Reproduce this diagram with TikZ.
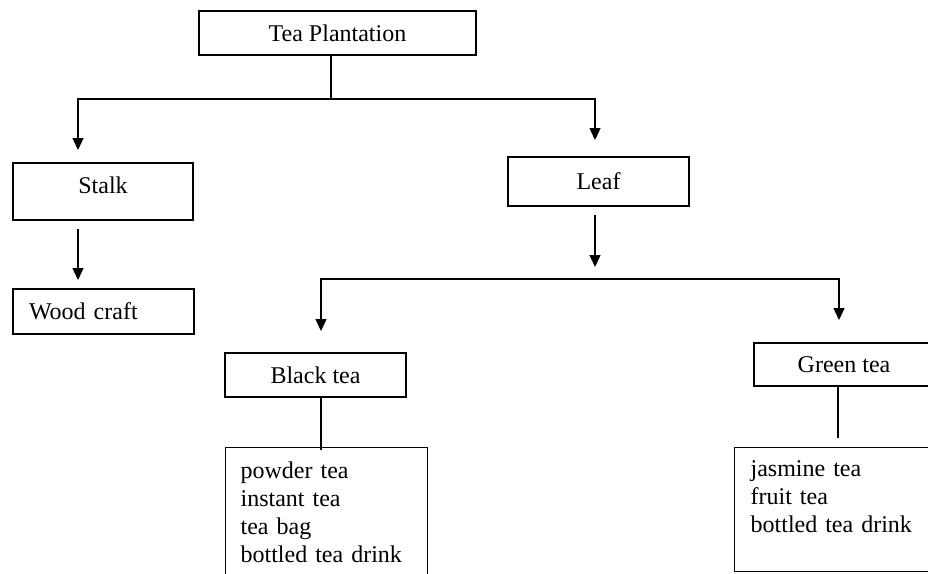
\documentclass[tikz,border=0pt]{standalone}
\usepackage{fontspec}
\setmainfont{Liberation Serif}
\usetikzlibrary{arrows.meta}
\begin{document}
\begin{tikzpicture}[x=1pt,y=-1pt,
  box/.style={draw, line width=1.3pt, inner sep=0pt, font=\fontsize{24}{28}\selectfont},
  listbox/.style={box, anchor=north west, align=left},
  conn/.style={line width=1.3pt},
  arr/.style={conn, -{Triangle[width=11pt,length=12pt]}},
]
\useasboundingbox (0,0) rectangle (928,573);
\clip (0,0) rectangle (928,573);

% boxes
\node[box, minimum width=277pt, minimum height=44pt] (tp) at (337.5,33) {Tea Plantation};
\node[box, minimum width=180pt, minimum height=57pt, text depth=12pt] (stalk) at (103,191.5) {Stalk};
\node[box, minimum width=181pt, minimum height=45pt, text width=149pt, align=left] (wc) at (103.5,311.5) {Wood craft};
\node[box, minimum width=181pt, minimum height=49pt] (leaf) at (598.5,181.5) {Leaf};
\node[box, minimum width=181pt, minimum height=44pt] (black) at (315.5,375) {Black tea};
\node[box, minimum width=180pt, minimum height=43pt] (green) at (844,364.5) {Green tea};
\node[listbox, inner xsep=15pt, text width=172pt, text height=30.5pt, text depth=130pt] (blist) at (225,447)
  {powder tea\\instant tea\\tea bag\\bottled tea drink};
\node[listbox, inner xsep=16pt, text width=170pt, text height=28.5pt, text depth=95.5pt] (glist) at (734,447)
  {jasmine tea\\fruit tea\\bottled tea drink};

% coordinates
\coordinate (j1) at (331,99);
\coordinate (a1) at (78,150);
\coordinate (a2) at (595,140);
\coordinate (s1) at (78,229);
\coordinate (a3) at (78,280);
\coordinate (l1) at (595,215);
\coordinate (a4) at (595,267);
\coordinate (j2) at (595,279);
\coordinate (a5) at (321,331);
\coordinate (a6) at (839,320);

% connectors
\draw[conn] (tp.south -| j1) -- (j1);
\draw[arr] (j1) -| (a1);
\draw[arr] (j1) -| (a2);
\draw[arr] (s1) -- (a3);
\draw[arr] (l1) -- (a4);
\draw[arr] (j2) -| (a5);
\draw[arr] (j2) -| (a6);
\draw[conn] (black.south -| a5) -- ([yshift=-3pt]blist.north -| a5);
\draw[conn] (green.south -| 838,0) -- ([yshift=9pt]glist.north -| 838,0);
\end{tikzpicture}
\end{document}
